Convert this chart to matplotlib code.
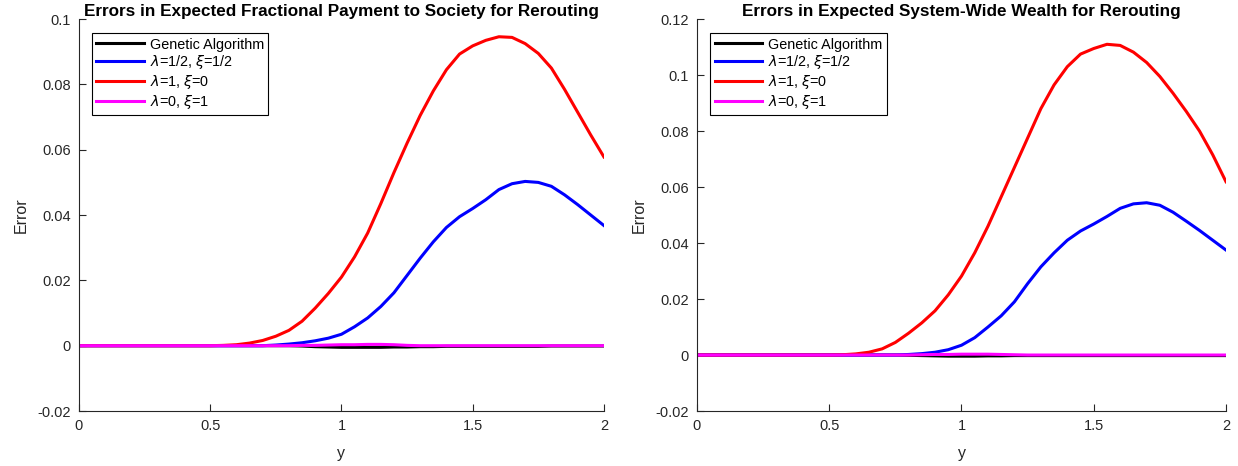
import matplotlib
matplotlib.use('Agg')
import matplotlib.pyplot as plt

plt.rcParams['font.family'] = ['Liberation Sans', 'DejaVu Sans']
plt.rcParams['mathtext.fontset'] = 'dejavusans'

# y grid (every 0.05 from 0 to 2)
y_vals = [i * 0.05 for i in range(41)]

# Left panel: Expected Fractional Payment to Society
pay_ga = [0] * 17 + [-0.0001, -0.0003, -0.0004, -0.0005, -0.0005, -0.0005, -0.0005,
                     -0.0004, -0.0004, -0.0003, -0.0003, -0.0002, -0.0002, -0.0002,
                     -0.0002, -0.0002, -0.0002, -0.0002, -0.0002, -0.0001, -0.0001,
                     -0.0001, -0.0001, -0.0001]
pay_half = [0] * 15 + [0.0002, 0.0005, 0.0009, 0.0015, 0.0023, 0.0035, 0.0058, 0.0085,
                       0.0120, 0.0162, 0.0215, 0.0268, 0.0318, 0.0362, 0.0395, 0.0420,
                       0.0447, 0.0478, 0.0496, 0.0503, 0.0500, 0.0488, 0.0462, 0.0432,
                       0.0400, 0.0368]
pay_one = [0] * 11 + [0.0001, 0.0003, 0.0008, 0.0016, 0.0029, 0.0047, 0.0075, 0.0115,
                      0.0160, 0.0210, 0.0272, 0.0345, 0.0435, 0.0530, 0.0620, 0.0705,
                      0.0780, 0.0845, 0.0893, 0.0918, 0.0935, 0.0946, 0.0944, 0.0925,
                      0.0895, 0.0850, 0.0785, 0.0715, 0.0645, 0.0578]
pay_zero = [0] * 17 + [0.0001, 0.0001, 0.0002, 0.0003, 0.0003, 0.0004, 0.0004, 0.0003,
                       0.0001, 0, 0, 0, 0, 0, 0, 0, 0, 0, 0, 0, 0, 0, 0, 0]

# Right panel: Expected System-Wide Wealth
wealth_ga = [0] * 16 + [-0.0001, -0.0002, -0.0003, -0.0004, -0.0004, -0.0004, -0.0003,
                        -0.0003, -0.0002, -0.0002, -0.0002, -0.0002, -0.0002, -0.0002,
                        -0.0002, -0.0002, -0.0002, -0.0002, -0.0002, -0.0002, -0.0002,
                        -0.0002, -0.0002, -0.0002, -0.0002]
wealth_half = [0] * 16 + [0.0002, 0.0005, 0.0010, 0.0019, 0.0035, 0.0062, 0.0100, 0.0140,
                          0.0190, 0.0255, 0.0315, 0.0365, 0.0410, 0.0443, 0.0468, 0.0495,
                          0.0524, 0.0540, 0.0544, 0.0535, 0.0510, 0.0478, 0.0445, 0.0410,
                          0.0375]
wealth_one = [0] * 11 + [0.0001, 0.0004, 0.0010, 0.0022, 0.0045, 0.0078, 0.0115, 0.0158,
                         0.0215, 0.0282, 0.0365, 0.0460, 0.0565, 0.0670, 0.0775, 0.0880,
                         0.0965, 0.1030, 0.1075, 0.1095, 0.1110, 0.1106, 0.1082, 0.1045,
                         0.0995, 0.0935, 0.0870, 0.0800, 0.0715, 0.0619]
wealth_zero = [0] * 17 + [0.0001, 0.0002, 0.0002, 0.0003, 0.0003, 0.0003, 0.0002, 0.0001,
                          0, 0, 0, 0, 0, 0, 0, 0, 0, 0, 0, 0, 0, 0, 0, 0]

labels = ['Genetic Algorithm', r'$\lambda$=1/2, $\xi$=1/2',
          r'$\lambda$=1, $\xi$=0', r'$\lambda$=0, $\xi$=1']
colors = ['black', 'blue', 'red', 'magenta']

panels = [
    ('Errors in Expected Fractional Payment to Society for Rerouting',
     [pay_ga, pay_half, pay_one, pay_zero], (-0.02, 0.1),
     [-0.02, 0, 0.02, 0.04, 0.06, 0.08, 0.1],
     ['-0.02', '0', '0.02', '0.04', '0.06', '0.08', '0.1'],
     [0.0638, 0.118, 0.424, 0.841]),
    ('Errors in Expected System-Wide Wealth for Rerouting',
     [wealth_ga, wealth_half, wealth_one, wealth_zero], (-0.02, 0.12),
     [-0.02, 0, 0.02, 0.04, 0.06, 0.08, 0.1, 0.12],
     ['-0.02', '0', '0.02', '0.04', '0.06', '0.08', '0.1', '0.12'],
     [0.563, 0.118, 0.4273, 0.841]),
]

fig = plt.figure(figsize=(12.38, 4.66), dpi=100)
gray = '#262626'

for title, series, ylim, yticks, yticklabels, pos in panels:
    ax = fig.add_axes(pos)
    for vals, c, lab in zip(series, colors, labels):
        ax.plot(y_vals, vals, color=c, lw=2.2, label=lab)
    ax.set_xlim(0, 2)
    ax.set_ylim(*ylim)
    ax.set_xticks([0, 0.5, 1, 1.5, 2])
    ax.set_xticklabels(['0', '0.5', '1', '1.5', '2'])
    ax.set_yticks(yticks)
    ax.set_yticklabels(yticklabels)
    ax.spines['top'].set_visible(False)
    ax.spines['right'].set_visible(False)
    for s in ['left', 'bottom']:
        ax.spines[s].set_color(gray)
        ax.spines[s].set_linewidth(0.8)
    ax.tick_params(direction='in', length=5, width=0.8, color=gray,
                   labelsize=10.5, labelcolor=gray, pad=6)
    ax.set_title(title, fontsize=12.3, fontweight='bold', pad=1)
    ax.set_xlabel('y', fontsize=11.5, color=gray, labelpad=9)
    ax.set_ylabel('Error', fontsize=11.5, color=gray, labelpad=6)
    leg = ax.legend(loc='upper left', bbox_to_anchor=(0.025, 0.964),
                    borderaxespad=0, fontsize=10.4, handlelength=3.3,
                    handletextpad=0.4, labelspacing=0.12, borderpad=0.3,
                    fancybox=False, framealpha=1)
    leg.get_frame().set_edgecolor('black')
    leg.get_frame().set_linewidth(0.8)

fig.savefig('out.png', dpi=100)
